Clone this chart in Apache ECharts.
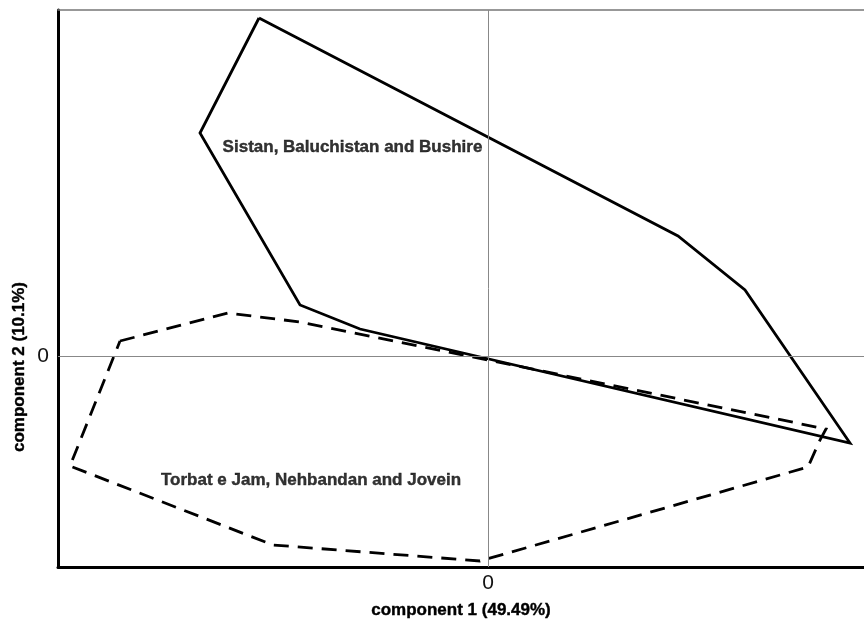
<!DOCTYPE html>
<html>
<head>
<meta charset="utf-8">
<script src="https://cdn.jsdelivr.net/npm/echarts@6/dist/echarts.min.js"></script>
<style>
  html, body { margin: 0; padding: 0; background: #fff; }
  #chart { width: 864px; height: 619px; }
</style>
</head>
<body>
<div id="chart"></div>
<script>
// Principal component scores: convex hulls of the two sample groups
const groupNames = ['Sistan, Baluchistan and Bushire', 'Torbat e Jam, Nehbandan and Jovein'];

// Hull vertices, [component 1, component 2]
const hullSistan = [
  [-2.29, 3.38], [1.90, 1.20], [2.57, 0.66], [3.62, -0.87],
  [-1.28, 0.27], [-1.88, 0.51], [-2.88, 2.23], [-2.29, 3.38]
];
const hullTorbat = [
  [-3.68, 0.15], [-2.60, 0.43], [-1.88, 0.34], [0.00, -0.04],
  [3.38, -0.73], [3.32, -0.84], [3.20, -1.11], [-0.08, -2.05],
  [-2.15, -1.89], [-4.18, -1.10], [-3.68, 0.15]
];

// Group label anchors (label centres)
const labelPoints = [[-1.355, 2.09], [-1.77, -1.24]];

// Axis extents and the single labelled tick
const xRange = [-4.30, 3.76];
const yRange = [-2.11, 3.46];
const tickValues = [0];
const xAxisName = 'component 1 (49.49%)';
const yAxisName = 'component 2 (10.1%)';

const chart = echarts.init(document.getElementById('chart'), null, { renderer: 'canvas' });
const fontFamily = 'Liberation Sans, Arial, sans-serif';
// slightly heavier bold text
const boldText = { fontFamily, fontSize: 17, fontWeight: 'bold', color: '#000', textBorderColor: '#000', textBorderWidth: 0.4 };

chart.setOption({
  animation: false,
  backgroundColor: '#ffffff',
  grid: { left: 58, right: 0, top: 10, bottom: 52, containLabel: false, outerBoundsMode: 'none' },
  xAxis: [{
    type: 'value', min: xRange[0], max: xRange[1],
    name: xAxisName, nameLocation: 'middle', nameGap: 35,
    nameTextStyle: boldText,
    axisLine: { onZero: false, lineStyle: { color: '#000', width: 3 } },
    axisTick: { show: false },
    axisLabel: { customValues: tickValues, fontFamily, fontSize: 21, color: '#111', margin: 6 },
    splitLine: { show: false }
  }, {
    type: 'value', position: 'top', min: xRange[0], max: xRange[1],
    axisLine: { onZero: false, lineStyle: { color: '#777', width: 1.5 } },
    axisTick: { show: false }, axisLabel: { show: false }, splitLine: { show: false }
  }],
  yAxis: {
    type: 'value', min: yRange[0], max: yRange[1],
    axisLine: { onZero: false, lineStyle: { color: '#000', width: 3 } },
    axisTick: { show: false },
    axisLabel: { customValues: tickValues, fontFamily, fontSize: 21, color: '#111', margin: 9 },
    splitLine: { show: false }
  },
  graphic: [{
    // vertical axis title, rotated to read bottom-to-top
    type: 'text',
    x: 19, y: 367, rotation: Math.PI / 2,
    style: {
      text: yAxisName, fontFamily, fontSize: 17, fontWeight: 'bold', fill: '#000',
      stroke: '#000', lineWidth: 0.4,
      align: 'center', verticalAlign: 'middle'
    }
  }],
  series: [{
    name: groupNames[0],
    type: 'line',
    data: hullSistan,
    symbol: 'none',
    lineStyle: { color: '#000', width: 2.8, join: 'miter' },
    z: 3,
    markLine: {
      silent: true, symbol: 'none', label: { show: false },
      lineStyle: { color: '#888', width: 1, type: 'solid' },
      data: [{ xAxis: 0 }, { yAxis: 0 }]
    }
  }, {
    name: groupNames[1],
    type: 'line',
    data: hullTorbat,
    symbol: 'none',
    lineStyle: { color: '#000', width: 2.8, type: [15, 9], join: 'miter' },
    z: 3
  }, {
    type: 'scatter',
    data: labelPoints.map((p, i) => ({ value: p, name: groupNames[i] })),
    symbolSize: 0,
    silent: true,
    label: Object.assign({ show: true, position: 'inside', formatter: '{b}' }, boldText)
  }]
});
</script>
</body>
</html>
